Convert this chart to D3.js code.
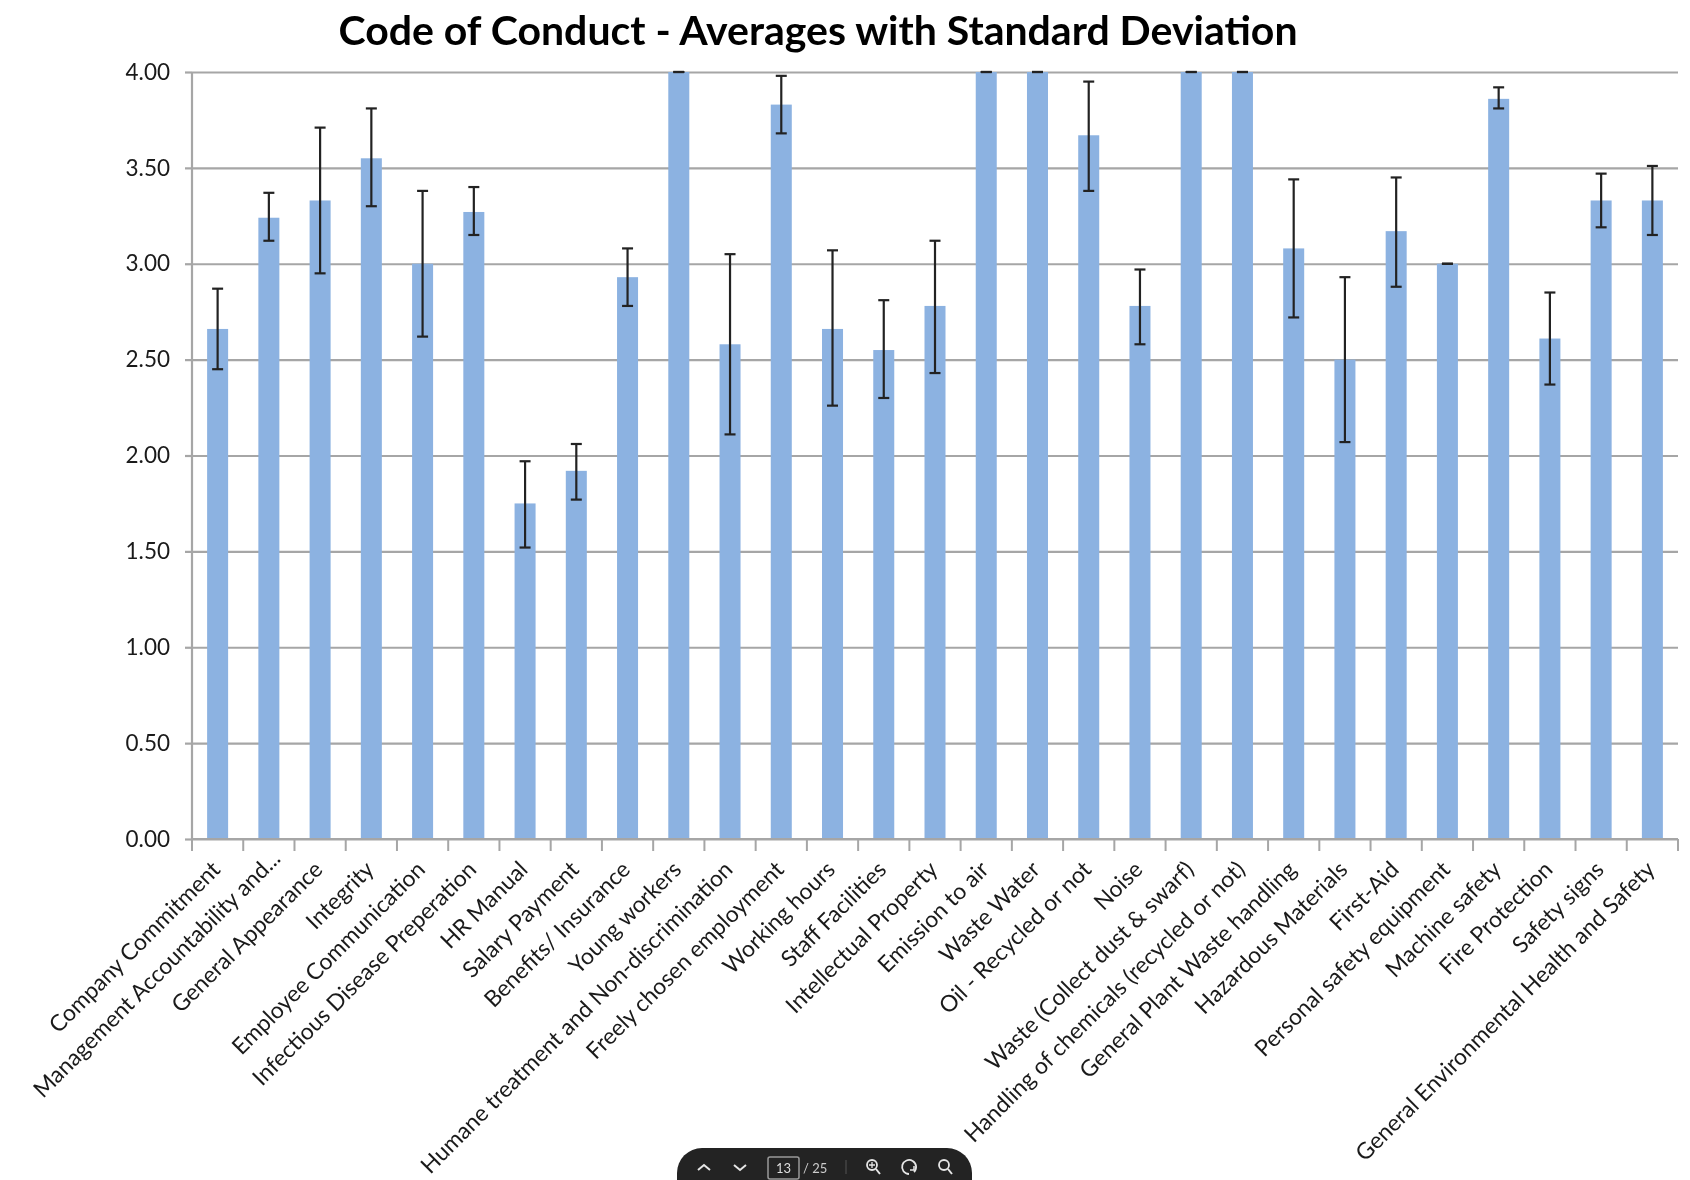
<!DOCTYPE html>
<html>
<head>
<meta charset="utf-8">
<script src="https://cdn.jsdelivr.net/npm/d3@7"></script>
<style>
  html, body { margin: 0; padding: 0; background: #fff; overflow: hidden; }
  svg { display: block; filter: blur(0.6px); }
  text { font-family: Lato, "Open Sans", sans-serif; fill: #1a1a1a; }
  .domain, .tick line { stroke: #a6a6a6; stroke-width: 2.2; }
</style>
</head>
<body>
<svg id="chart" width="1690" height="1180"></svg>
<script>
const categories = [
  "Company Commitment", "Management Accountability and...", "General Appearance", "Integrity",
  "Employee Communication", "Infectious Disease Preperation", "HR Manual", "Salary Payment",
  "Benefits/ Insurance", "Young workers", "Humane treatment and Non-discrimination",
  "Freely chosen employment", "Working hours", "Staff Facilities", "Intellectual Property",
  "Emission to air", "Waste Water", "Oil - Recycled or not", "Noise", "Waste (Collect dust & swarf)",
  "Handling of chemicals (recycled or not)", "General Plant Waste handling", "Hazardous Materials",
  "First-Aid", "Personal safety equipment", "Machine safety", "Fire Protection", "Safety signs",
  "General Environmental Health and Safety"
];
const averages = [2.66, 3.24, 3.33, 3.55, 3.00, 3.27, 1.75, 1.92, 2.93, 4.00, 2.58, 3.83, 2.66, 2.55, 2.78,
  4.00, 4.00, 3.67, 2.78, 4.00, 4.00, 3.08, 2.50, 3.17, 3.00, 3.86, 2.61, 3.33, 3.33];
const errHigh = [2.87, 3.37, 3.71, 3.81, 3.38, 3.40, 1.97, 2.06, 3.08, 4.00, 3.05, 3.98, 3.07, 2.81, 3.12,
  4.00, 4.00, 3.95, 2.97, 4.00, 4.00, 3.44, 2.93, 3.45, 3.00, 3.92, 2.85, 3.47, 3.51];
const errLow = [2.45, 3.12, 2.95, 3.30, 2.62, 3.15, 1.52, 1.77, 2.78, 4.00, 2.11, 3.68, 2.26, 2.30, 2.43,
  4.00, 4.00, 3.38, 2.58, 4.00, 4.00, 2.72, 2.07, 2.88, 3.00, 3.81, 2.37, 3.19, 3.15];
const yTicks = [0, 0.5, 1, 1.5, 2, 2.5, 3, 3.5, 4];

const margin = { top: 72, left: 192, right: 12, bottom: 341 };
const svg = d3.select("#chart");
const width = 1690 - margin.left - margin.right;
const height = 1180 - margin.top - margin.bottom;

const x = d3.scaleBand().domain(categories).range([0, width]).paddingInner(0.59).paddingOuter(0.295);
const y = d3.scaleLinear().domain([0, 4]).range([height, 0]);

const g = svg.append("g")
  .attr("transform", `translate(${margin.left},${margin.top})`);

// Title
svg.append("text")
  .attr("x", 818)
  .attr("y", 45)
  .attr("text-anchor", "middle")
  .style("font-size", "41px")
  .style("font-weight", 700)
  .style("fill", "#000")
  .text("Code of Conduct - Averages with Standard Deviation");

// Y axis, ticks run across as the gridlines
const yAxis = g.append("g")
  .call(d3.axisLeft(y).tickValues(yTicks).tickFormat(d3.format(".2f")).tickSize(-width).tickPadding(22));
yAxis.selectAll(".tick text").style("font-size", "22.5px");
yAxis.select(".domain").attr("d", `M0,0V${height}`);
// Short stub left of the axis
yAxis.selectAll(".tick").append("line").attr("x1", -7).attr("x2", 0);

// Bars
g.selectAll(".bar")
  .data(categories)
  .enter().append("rect")
  .attr("class", "bar")
  .attr("x", d => x(d))
  .attr("width", x.bandwidth())
  .attr("y", (d, i) => y(averages[i]))
  .attr("height", (d, i) => height - y(averages[i]))
  .style("fill", "#8cb2e1");

// X axis
const xAxis = g.append("g")
  .attr("transform", `translate(0,${height})`)
  .call(d3.axisBottom(x).tickSize(0).tickPadding(0));
xAxis.select(".domain").attr("d", `M0,0H${width}`);
xAxis.selectAll(".tick line").remove();
xAxis.selectAll(".tick text")
  .attr("text-anchor", "end")
  .attr("dy", 0)
  // the truncated label sits a little further up its slope
  .attr("transform", d => d.endsWith("...") ? "translate(13,21) rotate(-45)" : "translate(4,32) rotate(-45)")
  .style("font-size", "22.8px");

// Tick marks sit between the bars
g.selectAll(".band-tick")
  .data(d3.range(categories.length + 1))
  .enter().append("line")
  .attr("class", "band-tick")
  .attr("x1", d => d * x.step())
  .attr("x2", d => d * x.step())
  .attr("y1", height)
  .attr("y2", height + 12)
  .style("stroke", "#a6a6a6")
  .style("stroke-width", 2);

// Error bars
const errors = g.selectAll(".err")
  .data(categories)
  .enter().append("g")
  .attr("class", "err")
  .style("stroke", "#222")
  .style("stroke-width", 2.2);
const cx = d => x(d) + x.bandwidth() / 2;
errors.append("line")
  .attr("x1", cx).attr("x2", cx)
  .attr("y1", (d, i) => y(errHigh[i]))
  .attr("y2", (d, i) => y(errLow[i]));
errors.append("line")
  .attr("x1", d => cx(d) - 5.5).attr("x2", d => cx(d) + 5.5)
  .attr("y1", (d, i) => y(errHigh[i]))
  .attr("y2", (d, i) => y(errHigh[i]));
errors.append("line")
  .attr("x1", d => cx(d) - 5.5).attr("x2", d => cx(d) + 5.5)
  .attr("y1", (d, i) => y(errLow[i]))
  .attr("y2", (d, i) => y(errLow[i]));

// PDF viewer toolbar along the bottom edge
const bar = svg.append("g");
bar.append("path")
  .attr("d", "M677,1182 V1173 a25,25 0 0 1 25,-25 H947 a25,25 0 0 1 25,25 V1182 Z")
  .style("fill", "#232323");
const drawPath = (d, sw) => bar.append("path").attr("d", d)
  .style("fill", "none").style("stroke", "#e6e6e6").style("stroke-width", sw || 2);
drawPath("M698,1170 l6,-5 l6,5");
drawPath("M734,1165 l6,5 l6,-5");
bar.append("rect").attr("x", 768).attr("y", 1157).attr("width", 31).attr("height", 22).attr("rx", 2)
  .style("fill", "none").style("stroke", "#999").style("stroke-width", 1.5);
bar.append("text").attr("x", 783.5).attr("y", 1173).attr("text-anchor", "middle")
  .style("font-size", "13px").style("fill", "#ddd").text("13");
bar.append("text").attr("x", 803).attr("y", 1173)
  .style("font-size", "13px").style("fill", "#ccc").text("/ 25");
bar.append("line").attr("x1", 846).attr("x2", 846).attr("y1", 1160).attr("y2", 1174)
  .style("stroke", "#555").style("stroke-width", 1);
bar.append("circle").attr("cx", 872).attr("cy", 1165).attr("r", 5)
  .style("fill", "none").style("stroke", "#e6e6e6").style("stroke-width", 1.8);
drawPath("M876,1169 l4,5");
drawPath("M869,1165 h6 M872,1162 v6", 1.3);
drawPath("M909,1174 a7,7 0 1 1 5,-2", 1.8);
drawPath("M914,1166 v4 h-4", 1.5);
bar.append("circle").attr("cx", 944).attr("cy", 1165).attr("r", 5)
  .style("fill", "none").style("stroke", "#e6e6e6").style("stroke-width", 1.8);
drawPath("M948,1169 l4,5");
</script>
</body>
</html>
